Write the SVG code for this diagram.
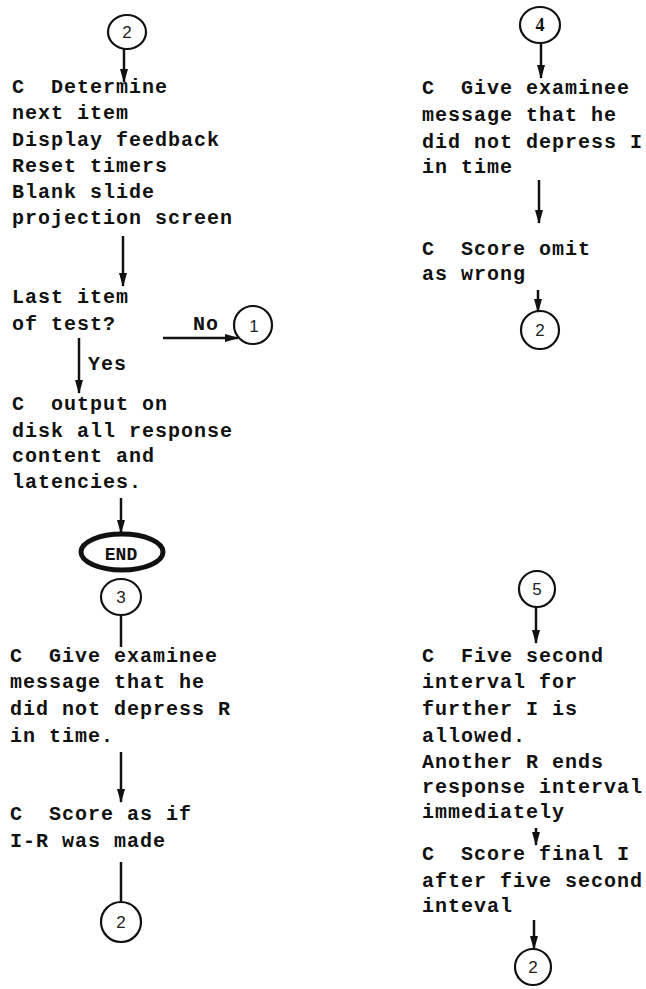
<svg xmlns="http://www.w3.org/2000/svg" width="646" height="989" viewBox="0 0 646 989">
  <style>
    .t { font-family: "Liberation Mono", "DejaVu Sans Mono", monospace; font-size: 20px; font-weight: bold; letter-spacing: 1px; fill: #111; white-space: pre; }
    .d { font-family: "Liberation Sans", "DejaVu Sans", sans-serif; font-size: 17px; fill: #222; text-anchor: middle; }
    .ds { font-family: "Liberation Serif", "DejaVu Serif", serif; font-size: 18px; font-weight: bold; fill: #111; text-anchor: middle; }
    .c { fill: none; stroke: #111; stroke-width: 2.2; }
    .e { fill: none; stroke: #111; stroke-width: 5; }
    .ln { fill: none; stroke: #111; stroke-width: 2.5; }
    .ar { fill: none; stroke: #111; stroke-width: 2.5; marker-end: url(#head); }
  </style>
  <defs>
    <!-- solid narrow arrowhead, tip at the line end -->
    <marker id="head" markerUnits="userSpaceOnUse" markerWidth="14" markerHeight="8" refX="13" refY="4" viewBox="0 0 14 8" orient="auto">
      <path d="M0,0 L14,4 L0,8 Z" fill="#111"/>
    </marker>
  </defs>
  <rect width="646" height="989" fill="#fff"/>

  <!-- connectors -->
  <g id="connectors">
    <line class="ar" x1="124" y1="49" x2="124" y2="82"/>
    <line class="ar" x1="123" y1="236" x2="123" y2="286"/>
    <line class="ar" x1="163" y1="338" x2="238" y2="338"/>
    <line class="ar" x1="79" y1="338" x2="79" y2="393"/>
    <line class="ar" x1="121" y1="498" x2="121" y2="533"/>
    <line class="ln" x1="121" y1="615" x2="121" y2="647"/>
    <line class="ar" x1="121" y1="752" x2="121" y2="802"/>
    <line class="ln" x1="121" y1="862" x2="121" y2="903"/>
    <line class="ar" x1="541" y1="43" x2="541" y2="78"/>
    <line class="ar" x1="539" y1="180" x2="539" y2="223"/>
    <line class="ar" x1="538" y1="290" x2="538" y2="312"/>
    <line class="ar" x1="536" y1="607" x2="536" y2="643"/>
    <line class="ar" x1="536" y1="828" x2="536" y2="845"/>
    <line class="ar" x1="534" y1="920" x2="534" y2="949"/>
  </g>

  <!-- left column -->
  <g id="conn-2-top">
    <ellipse class="c" cx="127" cy="32" rx="19" ry="17"/>
    <text class="d" x="127" y="38">2</text>
  </g>
  <g id="determine-next">
    <text class="t" x="12" y="93">C  Determine</text>
    <text class="t" x="12" y="119">next item</text>
    <text class="t" x="12" y="146">Display feedback</text>
    <text class="t" x="12" y="172">Reset timers</text>
    <text class="t" x="12" y="198">Blank slide</text>
    <text class="t" x="12" y="224">projection screen</text>
  </g>
  <g id="last-item">
    <text class="t" x="12" y="303">Last item</text>
    <text class="t" x="12" y="330">of test?</text>
    <text class="t" x="193" y="330">No</text>
    <text class="t" x="88" y="370">Yes</text>
  </g>
  <g id="conn-1">
    <circle class="c" cx="253" cy="325" r="19"/>
    <text class="d" x="254" y="332">1</text>
  </g>
  <g id="output-disk">
    <text class="t" x="12" y="410">C  output on</text>
    <text class="t" x="12" y="437">disk all response</text>
    <text class="t" x="12" y="462">content and</text>
    <text class="t" x="12" y="488">latencies.</text>
  </g>
  <g id="end">
    <ellipse class="e" cx="122" cy="552" rx="41" ry="18"/>
    <text class="t" x="121" y="560" text-anchor="middle" style="font-size:18px;letter-spacing:0">END</text>
  </g>
  <g id="conn-3">
    <ellipse class="c" cx="121" cy="597" rx="20" ry="18"/>
    <text class="d" x="121" y="603">3</text>
  </g>
  <g id="message-r">
    <text class="t" x="10" y="662">C  Give examinee</text>
    <text class="t" x="10" y="688">message that he</text>
    <text class="t" x="10" y="715">did not depress R</text>
    <text class="t" x="10" y="742">in time.</text>
  </g>
  <g id="score-ir">
    <text class="t" x="10" y="820">C  Score as if</text>
    <text class="t" x="10" y="847">I-R was made</text>
  </g>
  <g id="conn-2-left">
    <circle class="c" cx="121" cy="922" r="20"/>
    <text class="d" x="121" y="928">2</text>
  </g>

  <!-- right column -->
  <g id="conn-4">
    <ellipse class="c" cx="540" cy="25" rx="20" ry="18"/>
    <text class="ds" x="540" y="31">4</text>
  </g>
  <g id="message-i">
    <text class="t" x="422" y="94">C  Give examinee</text>
    <text class="t" x="422" y="121">message that he</text>
    <text class="t" x="422" y="148">did not depress I</text>
    <text class="t" x="422" y="173">in time</text>
  </g>
  <g id="score-omit">
    <text class="t" x="422" y="255">C  Score omit</text>
    <text class="t" x="422" y="280">as wrong</text>
  </g>
  <g id="conn-2-right">
    <circle class="c" cx="540" cy="330" r="19"/>
    <text class="d" x="540" y="336">2</text>
  </g>
  <g id="conn-5">
    <circle class="c" cx="537" cy="589" r="18"/>
    <text class="d" x="537" y="595">5</text>
  </g>
  <g id="five-second">
    <text class="t" x="422" y="662">C  Five second</text>
    <text class="t" x="422" y="688">interval for</text>
    <text class="t" x="422" y="715">further I is</text>
    <text class="t" x="422" y="742">allowed.</text>
    <text class="t" x="422" y="768">Another R ends</text>
    <text class="t" x="422" y="793">response interval</text>
    <text class="t" x="422" y="818">immediately</text>
  </g>
  <g id="score-final">
    <text class="t" x="422" y="860">C  Score final I</text>
    <text class="t" x="422" y="887">after five second</text>
    <text class="t" x="422" y="912">inteval</text>
  </g>
  <g id="conn-2-bottom">
    <circle class="c" cx="533" cy="967" r="18"/>
    <text class="d" x="533" y="973">2</text>
  </g>
</svg>
